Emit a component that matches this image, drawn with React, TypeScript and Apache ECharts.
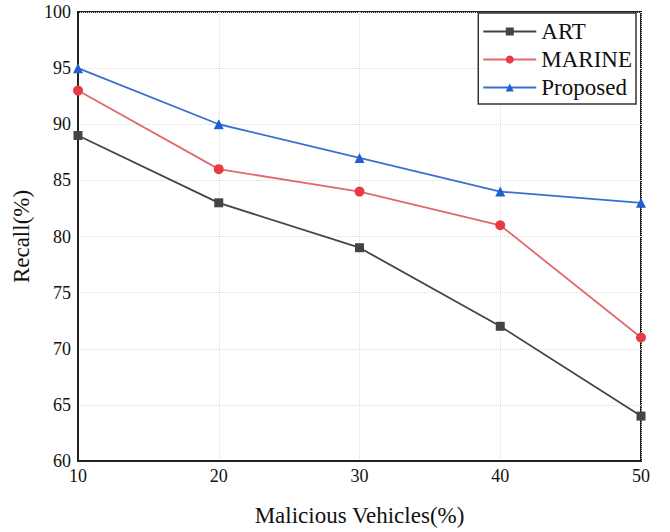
import React, { useEffect, useRef } from "react";
import * as echarts from "echarts";

const xValues = [10, 20, 30, 40, 50];
const artValues = [89, 83, 79, 72, 64];
const marineValues = [93, 86, 84, 81, 71];
const proposedValues = [95, 90, 87, 84, 83];

const pairs = (ys: number[]) => xValues.map((x, i) => [x, ys[i]]);

export default function App() {
  const ref = useRef<HTMLDivElement>(null);
  useEffect(() => {
    if (!ref.current) return;
    const chart = echarts.init(ref.current, undefined, { renderer: "svg" });
    const font = "'Liberation Serif', 'Times New Roman', serif";
    chart.setOption({
      animation: false,
      backgroundColor: "#ffffff",
      textStyle: { fontFamily: font },
      grid: {
        left: 78,
        right: 29,
        top: 12,
        bottom: 69,
        show: true,
        borderColor: "#222",
        borderWidth: 2,
        backgroundColor: "transparent",
      },
      legend: {
        orient: "vertical",
        right: 34,
        top: 13,
        itemWidth: 53,
        itemHeight: 10,
        itemGap: 5,
        padding: [7, 4, 5, 4],
        borderColor: "#333",
        borderWidth: 1.5,
        backgroundColor: "#fff",
        textStyle: { fontFamily: font, fontSize: 23, color: "#111" },
        data: ["ART", "MARINE", "Proposed"],
      },
      xAxis: {
        type: "value",
        min: 10,
        max: 50,
        interval: 10,
        name: "Malicious Vehicles(%)",
        nameLocation: "middle",
        nameGap: 43,
        nameTextStyle: { fontFamily: font, fontSize: 23, color: "#111" },
        axisLine: { show: true, lineStyle: { color: "#222", width: 2 } },
        axisTick: { show: false },
        axisLabel: { fontFamily: font, fontSize: 18, color: "#111", margin: 6 },
        splitLine: { show: true, lineStyle: { color: "#ddd", type: "dotted", width: 1 } },
      },
      yAxis: {
        type: "value",
        min: 60,
        max: 100,
        interval: 5,
        name: "Recall(%)",
        nameLocation: "middle",
        nameGap: 42,
        nameTextStyle: { fontFamily: font, fontSize: 23, color: "#111" },
        axisLine: { show: true, lineStyle: { color: "#222", width: 2 } },
        axisTick: { show: false },
        axisLabel: { fontFamily: font, fontSize: 18, color: "#111", margin: 7 },
        splitLine: { show: true, lineStyle: { color: "#ddd", type: "dotted", width: 1 } },
      },
      series: [
        {
          name: "ART",
          type: "line",
          data: pairs(artValues),
          symbol: "rect",
          symbolSize: 9,
          color: "#444",
          lineStyle: { color: "#444", width: 1.8 },
          itemStyle: { color: "#444" },
        },
        {
          name: "MARINE",
          type: "line",
          data: pairs(marineValues),
          symbol: "circle",
          symbolSize: 10,
          color: "#e83a44",
          lineStyle: { color: "#e06a6e", width: 1.8 },
          itemStyle: { color: "#e83a44" },
        },
        {
          name: "Proposed",
          type: "line",
          data: pairs(proposedValues),
          symbol: "triangle",
          symbolSize: 10,
          color: "#1f5fd0",
          lineStyle: { color: "#3a6fd0", width: 1.8 },
          itemStyle: { color: "#1f5fd0" },
        },
      ],
    });
    return () => chart.dispose();
  }, []);
  return <div ref={ref} style={{ width: 670, height: 532, position: "absolute", left: 0, top: 0 }} />;
}
